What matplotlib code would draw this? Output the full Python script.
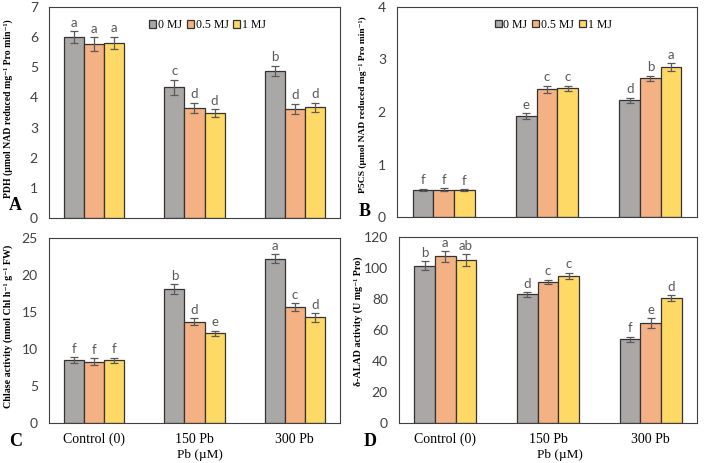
import matplotlib
matplotlib.use('Agg')
import matplotlib.pyplot as plt
import numpy as np

groups = ['Control (0)', '150 Pb', '300 Pb']
series = ['0 MJ', '0.5 MJ', '1 MJ']
colors = ['#aaa7a7', '#f4b183', '#ffd966']

# panel A: PDH
pdh = [[6.00, 4.33, 4.88], [5.77, 3.65, 3.62], [5.82, 3.47, 3.68]]
pdh_err = [[0.20, 0.25, 0.17], [0.22, 0.17, 0.17], [0.20, 0.13, 0.15]]
pdh_let = [['a', 'c', 'b'], ['a', 'd', 'd'], ['a', 'd', 'd']]

# panel B: P5CS
p5cs = [[0.52, 1.92, 2.22], [0.52, 2.43, 2.64], [0.51, 2.45, 2.86]]
p5cs_err = [[0.02, 0.06, 0.05], [0.03, 0.07, 0.05], [0.02, 0.05, 0.07]]
p5cs_let = [['f', 'e', 'd'], ['f', 'c', 'b'], ['f', 'c', 'a']]

# panel C: chlase
chl = [[8.55, 18.1, 22.2], [8.3, 13.7, 15.7], [8.45, 12.15, 14.3]]
chl_err = [[0.40, 0.70, 0.60], [0.45, 0.45, 0.55], [0.40, 0.35, 0.60]]
chl_let = [['f', 'b', 'a'], ['f', 'd', 'c'], ['f', 'e', 'd']]

# panel D: ALAD
alad = [[101.5, 83.0, 54.0], [107.5, 91.0, 64.5], [105.0, 95.0, 80.5]]
alad_err = [[3.0, 1.5, 1.8], [3.5, 1.5, 3.0], [4.0, 2.0, 1.8]]
alad_let = [['b', 'd', 'f'], ['a', 'c', 'e'], ['ab', 'c', 'd']]

SERIF = ['Liberation Serif', 'DejaVu Serif']
SANS = ['Lato', 'DejaVu Sans']

fig = plt.figure(figsize=(7.04, 4.63), dpi=100)


def draw_panel(rect, vals, errs, lets, ymax, ystep, ylabel, tag, tag_xy, ylab_xy,
               ylab_size=7.0, legend=None, xlab_x=None):
    ax = fig.add_axes(rect)
    x = np.arange(len(groups))
    w = 0.2
    for i in range(len(series)):
        xs = x + (i - 1) * w
        ax.bar(xs, vals[i], w, color=colors[i], edgecolor='#333333', linewidth=0.9,
               label=series[i], zorder=2)
        ax.errorbar(xs, vals[i], yerr=errs[i], fmt='none', ecolor='#595959',
                    elinewidth=0.9, capsize=3, capthick=0.9, zorder=3)
        for xi, v, e, t in zip(xs, vals[i], errs[i], lets[i]):
            ax.text(xi, v + e + ymax * 0.012, t, ha='center', va='bottom',
                    fontsize=9.5, color='#595959', family=SANS)
    ax.set_xlim(-0.45, 2.45)
    ax.set_ylim(0, ymax)
    ax.set_yticks(np.arange(0, ymax + ystep / 2, ystep))
    ax.tick_params(axis='y', length=0, pad=8, labelsize=10, labelcolor='#404040')
    for lab in ax.get_yticklabels():
        lab.set_family(SANS)
    if xlab_x is not None:
        ax.set_xticks(x)
        ax.set_xticklabels(groups, family=SERIF, fontsize=10)
        ax.tick_params(axis='x', length=0, pad=7)
        ax.set_xlabel('Pb (\u00b5M)', family=SERIF, fontsize=9.5)
        ax.xaxis.set_label_coords(xlab_x, -0.14)
    else:
        ax.set_xticks([])
    for sp in ax.spines.values():
        sp.set_color('#404040')
        sp.set_linewidth(0.8)
    ax.set_ylabel(ylabel, family=SERIF, fontsize=ylab_size, fontweight='bold')
    ax.yaxis.set_label_coords(*ylab_xy)
    fig.text(tag_xy[0], tag_xy[1], tag, family=SERIF, fontsize=13, fontweight='bold',
             ha='left', va='center')
    if legend is not None:
        ax.legend(loc='center', bbox_to_anchor=legend, ncol=3, frameon=False,
                  prop={'family': SERIF, 'size': 8.5}, handlelength=0.6,
                  handleheight=0.6, handletextpad=0.15, columnspacing=0.4)
    return ax


draw_panel([49 / 704, 1 - 218 / 463, 291 / 704, 211 / 463], pdh, pdh_err, pdh_let,
           7, 1, 'PDH (\u00b5mol NAD reduced mg\u207b\u00b9 Pro min\u207b\u00b9)', 'A',
           (9 / 704, 1 - 206 / 463), (-0.125, 0.52), legend=(0.545, 0.915))
draw_panel([397 / 704, 1 - 217 / 463, 300 / 704, 210 / 463], p5cs, p5cs_err, p5cs_let,
           4, 1, 'P5CS (\u00b5mol NAD reduced mg\u207b\u00b9 Pro min\u207b\u00b9)', 'B',
           (359 / 704, 1 - 211 / 463), (-0.1, 0.535), ylab_size=6.8, legend=(0.52, 0.915))
draw_panel([49 / 704, 1 - 423 / 463, 291 / 704, 185 / 463], chl, chl_err, chl_let,
           25, 5, 'Chlase activity (nmol Chl h\u207b\u00b9 g\u207b\u00b9 FW)', 'C',
           (9 / 704, 1 - 442 / 463), (-0.125, 0.52), ylab_size=7.2, xlab_x=0.52)
draw_panel([399 / 704, 1 - 423 / 463, 298 / 704, 186 / 463], alad, alad_err, alad_let,
           120, 20, '\u03b4-ALAD activity (U mg\u207b\u00b9 Pro)', 'D',
           (364 / 704, 1 - 441 / 463), (-0.12, 0.55), ylab_size=7.2, xlab_x=0.54)

fig.savefig('out.png', dpi=100)
